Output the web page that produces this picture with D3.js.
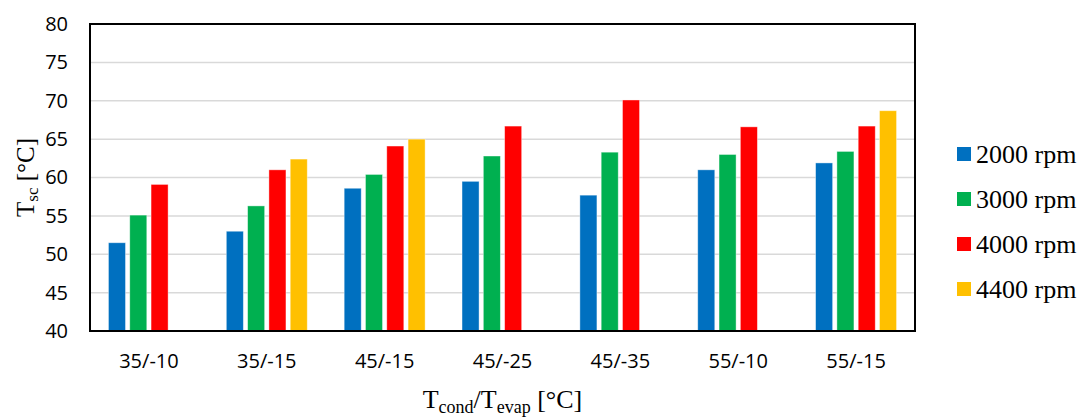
<!DOCTYPE html>
<html>
<head>
<meta charset="utf-8">
<script src="https://cdn.jsdelivr.net/npm/d3@7"></script>
<style>
  body { margin: 0; background: #fff; }
  svg { display: block; }
</style>
</head>
<body>
<svg id="chart" width="1084" height="417"></svg>
<script>
// data
const categories = ["35/-10", "35/-15", "45/-15", "45/-25", "45/-35", "55/-10", "55/-15"];
const seriesNames = ["2000 rpm", "3000 rpm", "4000 rpm", "4400 rpm"];
const rpm2000 = [51.5, 53.0, 58.6, 59.5, 57.7, 61.0, 61.9];
const rpm3000 = [55.1, 56.3, 60.4, 62.8, 63.3, 63.0, 63.4];
const rpm4000 = [59.1, 61.0, 64.1, 66.7, 70.1, 66.6, 66.7];
const rpm4400 = [null, 62.4, 65.0, null, null, null, 68.7];
const yTicks = [40, 45, 50, 55, 60, 65, 70, 75, 80];
const colors = ["#0070C0", "#00B050", "#FF0000", "#FFC000"];

const allSeries = [rpm2000, rpm3000, rpm4000, rpm4400];

const margin = { top: 24, right: 169, bottom: 86, left: 90 };
const width = 1084 - margin.left - margin.right;
const height = 417 - margin.top - margin.bottom;

const svg = d3.select("#chart");
const g = svg.append("g").attr("transform", `translate(${margin.left},${margin.top})`);

const x0 = d3.scaleBand()
    .domain(categories)
    .range([0, width])
    .paddingInner(0.277)
    .paddingOuter(0.1385);

const x1 = d3.scaleBand()
    .domain(seriesNames)
    .range([0, x0.bandwidth()])
    .paddingInner(0.2)
    .paddingOuter(0.1);

const y = d3.scaleLinear().domain([40, 80]).range([height, 0]);

// gridlines
g.append("g")
    .selectAll("line")
    .data(yTicks.filter(t => t > 40 && t < 80))
    .join("line")
    .attr("x1", 0)
    .attr("x2", width)
    .attr("y1", d => y(d))
    .attr("y2", d => y(d))
    .attr("stroke", "#d9d9d9")
    .attr("stroke-width", 1.5);

// bars
const rows = [];
categories.forEach((c, i) => {
    seriesNames.forEach((s, j) => {
        const v = allSeries[j][i];
        if (v != null) rows.push({ cat: c, series: s, idx: j, value: v });
    });
});

g.append("g")
    .selectAll("rect")
    .data(rows)
    .join("rect")
    .attr("x", d => x0(d.cat) + x1(d.series))
    .attr("y", d => y(d.value))
    .attr("width", x1.bandwidth())
    .attr("height", d => y(40) - y(d.value))
    .attr("fill", d => colors[d.idx])
    .attr("stroke", "#ffffff")
    .attr("stroke-opacity", 0.5)
    .attr("stroke-width", 0.8);

// plot border
g.append("rect")
    .attr("x", 0)
    .attr("y", 0)
    .attr("width", width)
    .attr("height", height)
    .attr("fill", "none")
    .attr("stroke", "#000")
    .attr("stroke-width", 2);

// y axis
const yAxis = g.append("g")
    .call(d3.axisLeft(y).tickValues(yTicks).tickSize(0).tickPadding(22));
yAxis.select(".domain").remove();
yAxis.selectAll("text")
    .style("font-family", "'Open Sans', sans-serif")
    .style("font-size", "20px")
    .attr("fill", "#000");

// x axis
const xAxis = g.append("g")
    .attr("transform", `translate(0,${height})`)
    .call(d3.axisBottom(x0).tickSize(0).tickPadding(23));
xAxis.select(".domain").remove();
xAxis.selectAll("text")
    .style("font-family", "'Open Sans', sans-serif")
    .style("font-size", "20px")
    .attr("fill", "#000");

// axis titles
const yTitle = svg.append("text")
    .attr("transform", `translate(34,${margin.top + height / 2}) rotate(-90)`)
    .attr("text-anchor", "middle")
    .style("font-family", "'Liberation Serif', 'Times New Roman', serif")
    .style("font-size", "25px");
yTitle.append("tspan").text("T");
yTitle.append("tspan").attr("baseline-shift", "-25%").style("font-size", "17px").text("sc");
yTitle.append("tspan").text(" [°C]");

const xTitle = svg.append("text")
    .attr("x", margin.left + width / 2)
    .attr("y", 408)
    .attr("text-anchor", "middle")
    .style("font-family", "'Liberation Serif', 'Times New Roman', serif")
    .style("font-size", "26px");
xTitle.append("tspan").text("T");
xTitle.append("tspan").attr("baseline-shift", "-25%").style("font-size", "18px").text("cond");
xTitle.append("tspan").text("/T");
xTitle.append("tspan").attr("baseline-shift", "-25%").style("font-size", "18px").text("evap");
xTitle.append("tspan").text(" [°C]");

// legend
const legend = svg.append("g").attr("transform", "translate(957,154)");
const item = legend.selectAll("g")
    .data(seriesNames)
    .join("g")
    .attr("transform", (d, i) => `translate(0,${i * 45})`);
item.append("rect")
    .attr("x", 0)
    .attr("y", -7)
    .attr("width", 14)
    .attr("height", 14)
    .attr("fill", (d, i) => colors[i]);
item.append("text")
    .attr("x", 19)
    .attr("y", 0)
    .attr("dy", "0.35em")
    .style("font-family", "'Liberation Serif', 'Times New Roman', serif")
    .style("font-size", "26px")
    .text(d => d);
</script>
</body>
</html>
